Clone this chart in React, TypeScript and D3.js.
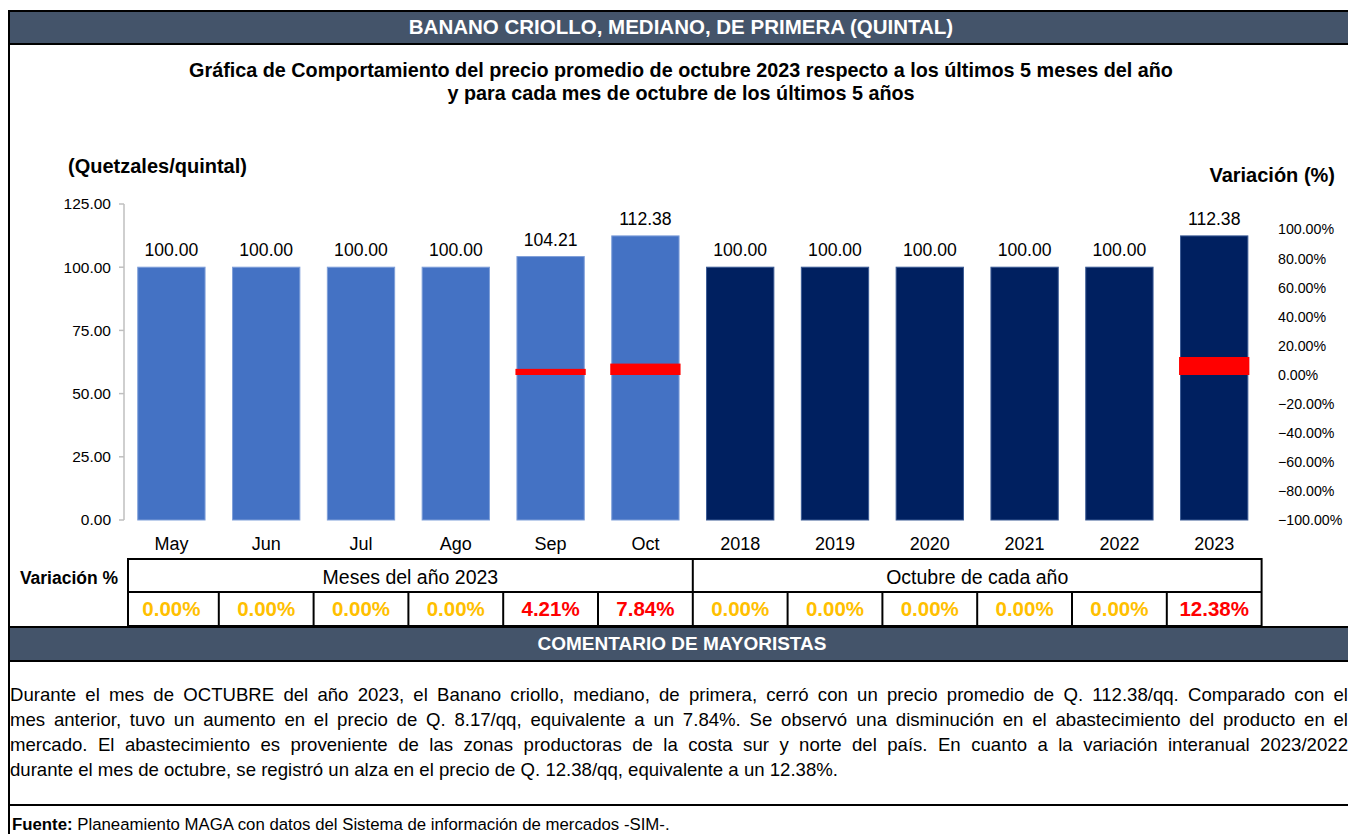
import React, { useLayoutEffect, useRef, useState } from "react";
import * as d3 from "d3";

const categories = ["May", "Jun", "Jul", "Ago", "Sep", "Oct", "2018", "2019", "2020", "2021", "2022", "2023"];
const prices = [100, 100, 100, 100, 104.21, 112.38, 100, 100, 100, 100, 100, 112.38];
const variations = [0, 0, 0, 0, 4.21, 7.84, 0, 0, 0, 0, 0, 12.38];
const isYear = [false, false, false, false, false, false, true, true, true, true, true, true];
const groupLabels = ["Meses del año 2023", "Octubre de cada año"];
const leftTicks = [0, 25, 50, 75, 100, 125];
const rightTicks = [-100, -80, -60, -40, -20, 0, 20, 40, 60, 80, 100];

const headerTitle = "BANANO CRIOLLO, MEDIANO, DE PRIMERA (QUINTAL)";
const chartTitle = [
  "Gráfica de Comportamiento del precio promedio de octubre 2023 respecto a los últimos 5 meses del año",
  "y para cada mes de octubre de los últimos 5 años",
];
const commentLines = [
  "Durante el mes de OCTUBRE del año 2023, el Banano criollo, mediano, de primera, cerró con un precio promedio de Q. 112.38/qq. Comparado con el",
  "mes anterior, tuvo un aumento en el precio de Q. 8.17/qq, equivalente a un 7.84%. Se observó una disminución en el abastecimiento del producto en el",
  "mercado. El abastecimiento es proveniente de las zonas productoras de la costa sur y norte del país. En cuanto a la variación interanual 2023/2022",
  "durante el mes de octubre, se registró un alza en el precio de Q. 12.38/qq, equivalente a un 12.38%.",
];

const FONT = "'Liberation Sans', Arial, sans-serif";
const SLATE = "#44546A";

function JustifiedLine({ text, x, y, width, justify }: { text: string; x: number; y: number; width: number; justify: boolean }) {
  const ref = useRef<SVGTextElement>(null);
  const [ws, setWs] = useState(0);
  useLayoutEffect(() => {
    if (!justify || !ref.current) return;
    const natural = ref.current.getComputedTextLength();
    const spaces = (text.match(/ /g) || []).length;
    if (spaces > 0) setWs((width - natural) / spaces);
  }, [text, width, justify]);
  return (
    <text ref={ref} x={x} y={y} fontSize={18.6} fontFamily={FONT} fill="#000" style={{ wordSpacing: `${ws}px` }}>
      {text}
    </text>
  );
}

export default function App() {
  const W = 1348;
  const H = 834;
  const x = d3.scaleBand<string>().domain(categories).range([124, 1261.6]).paddingInner(0.29).paddingOuter(0.145);
  const y = d3.scaleLinear().domain([0, 125]).range([520, 204]);
  const yr = d3.scaleLinear().domain([-100, 100]).range([520.5, 229.5]);
  const bw = x.bandwidth();
  const step = x.step();
  const fmt = d3.format(".2f");

  const tableTop = 559;
  const tableMid = 592;
  const tableBot = 626;
  const tableLeft = 128;
  const tableRight = (x(categories[11]) as number) + bw + (step - bw) / 2;
  const groupSplit = (x(categories[6]) as number) - (step - bw) / 2;

  return (
    <svg width={W} height={H} style={{ position: "absolute", left: 0, top: 0, background: "#fff" }} fontFamily={FONT}>
      {/* header */}
      <rect x={9} y={11} width={W} height={33} fill={SLATE} stroke="#000" strokeWidth={2} />
      <text x={681} y={34} textAnchor="middle" fontSize={20.5} fontWeight="bold" fill="#fff">{headerTitle}</text>
      {/* left frame line */}
      <line x1={9} x2={9} y1={11} y2={H} stroke="#000" strokeWidth={2} />

      {/* chart title */}
      {chartTitle.map((t, i) => (
        <text key={i} x={681} y={77 + i * 23} textAnchor="middle" fontSize={19.8} fontWeight="bold" fill="#000">{t}</text>
      ))}
      <text x={68} y={173} fontSize={20} fontWeight="bold">(Quetzales/quintal)</text>
      <text x={1335} y={182} textAnchor="end" fontSize={20} fontWeight="bold">Variación (%)</text>

      {/* left axis */}
      <line x1={124} x2={124} y1={y(125)} y2={y(0)} stroke="#BFBFBF" strokeWidth={1.5} />
      {leftTicks.map((t) => (
        <g key={t}>
          <line x1={119} x2={124} y1={y(t)} y2={y(t)} stroke="#BFBFBF" strokeWidth={1.5} />
          <text x={111} y={y(t)} dy="0.35em" textAnchor="end" fontSize={15.5} fill="#000">{fmt(t)}</text>
        </g>
      ))}

      {/* right axis labels */}
      {rightTicks.map((t) => (
        <text key={t} x={1278} y={yr(t)} dy="0.35em" fontSize={14.2} fill="#000">{fmt(t) + "%"}</text>
      ))}

      {/* bars */}
      {categories.map((c, i) => {
        const bx = x(c) as number;
        return (
          <g key={c}>
            <rect
              x={bx}
              y={y(prices[i])}
              width={bw}
              height={y(0) - y(prices[i])}
              fill={isYear[i] ? "#002060" : "#4472C4"}
              stroke={isYear[i] ? "#3B5A94" : "#7F9FD9"}
              strokeWidth={1}
            />
            <text x={bx + bw / 2} y={y(prices[i]) - 11} textAnchor="middle" fontSize={17.6} fill="#000">{fmt(prices[i])}</text>
            <text x={bx + bw / 2} y={550} textAnchor="middle" fontSize={18} fill="#000">{c}</text>
          </g>
        );
      })}

      {/* variation bars */}
      {categories.map((c, i) =>
        variations[i] !== 0 ? (
          <rect
            key={"v" + c}
            x={(x(c) as number) - 1.5}
            y={yr(variations[i])}
            width={bw + 3}
            height={yr(0) - yr(variations[i])}
            fill="#FF0000"
          />
        ) : null
      )}

      {/* table */}
      <text x={69} y={584} textAnchor="middle" fontSize={17.5} fontWeight="bold">Variación %</text>
      <rect x={tableLeft} y={tableTop} width={tableRight - tableLeft} height={tableBot - tableTop} fill="none" stroke="#000" strokeWidth={2} />
      <line x1={tableLeft} x2={tableRight} y1={tableMid} y2={tableMid} stroke="#000" strokeWidth={2} />
      <line x1={groupSplit} x2={groupSplit} y1={tableTop} y2={tableBot} stroke="#000" strokeWidth={2} />
      <text x={(tableLeft + groupSplit) / 2} y={584} textAnchor="middle" fontSize={19.5}>{groupLabels[0]}</text>
      <text x={(groupSplit + tableRight) / 2} y={584} textAnchor="middle" fontSize={19.5}>{groupLabels[1]}</text>
      {categories.map((c, i) => {
        const bx = x(c) as number;
        const sep = bx + bw + (step - bw) / 2;
        return (
          <g key={"t" + c}>
            {i < categories.length - 1 && i !== 5 ? (
              <line x1={sep} x2={sep} y1={tableMid} y2={tableBot} stroke="#000" strokeWidth={2} />
            ) : null}
            <text
              x={bx + bw / 2}
              y={616}
              textAnchor="middle"
              fontSize={20.5}
              fontWeight="bold"
              fill={variations[i] === 0 ? "#FFC000" : "#FF0000"}
            >
              {fmt(variations[i]) + "%"}
            </text>
          </g>
        );
      })}

      {/* comment header */}
      <rect x={9} y={627} width={W} height={34} fill={SLATE} stroke="#000" strokeWidth={2} />
      <text x={682} y={650} textAnchor="middle" fontSize={19} fontWeight="bold" fill="#fff">COMENTARIO DE MAYORISTAS</text>

      {commentLines.map((t, i) => (
        <JustifiedLine key={i} text={t} x={10} y={701 + i * 25} width={1338} justify={i < commentLines.length - 1} />
      ))}

      <line x1={9} x2={W} y1={805} y2={805} stroke="#000" strokeWidth={2} />
      <text x={12} y={830} fontSize={16.8}>
        <tspan fontWeight="bold">Fuente:</tspan>
        <tspan> Planeamiento MAGA con datos del Sistema de información de mercados -SIM-.</tspan>
      </text>
    </svg>
  );
}
